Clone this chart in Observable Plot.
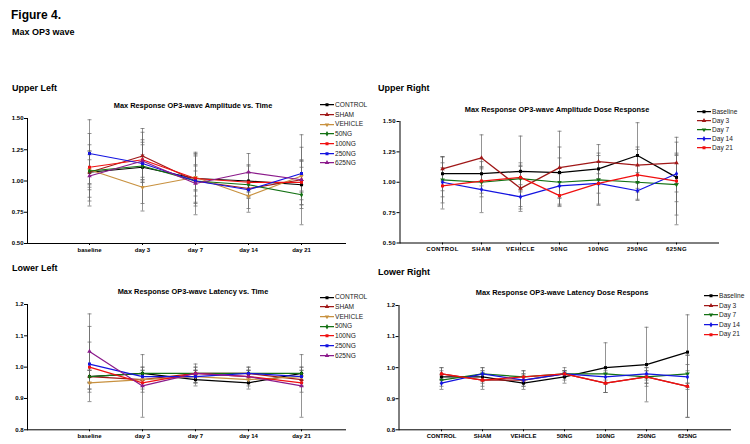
<!DOCTYPE html>
<html><head><meta charset="utf-8">
<script src="https://cdn.jsdelivr.net/npm/d3@7"></script>
<script src="https://cdn.jsdelivr.net/npm/@observablehq/plot@0.6"></script>
<style>
html,body{margin:0;padding:0;background:#fff;}
body{width:750px;height:444px;overflow:hidden;position:relative;font-family:"Liberation Sans",Arial,sans-serif;}
.abs{position:absolute;white-space:nowrap;line-height:1;}
.h1{font-weight:bold;font-size:12px;transform:translateY(-50%);}
.h2{font-weight:bold;font-size:9px;transform:translateY(-50%);}
.title{font-weight:bold;font-size:7.4px;transform:translate(-50%,-50%);}
.leg{font-size:6.6px;color:#222;transform:translateY(-50%);display:flex;align-items:center;}
.leg svg{display:block;margin-right:1px;}
.panel{position:absolute;}
</style></head><body>
<script>
// ---- categories ----
const treatments = ["CONTROL","SHAM","VEHICLE","50NG","100NG","250NG","625NG"];
const timepoints = ["baseline","day 3","day 7","day 14","day 21"];
const timeSeries = ["Baseline","Day 3","Day 7","Day 14","Day 21"];

// ---- OP3 amplitude means (per time point, ordered as treatments) ----
const ampBaseline = [1.07,1.07,1.09,1.08,1.11,1.22,1.04];
const ampDay3     = [1.11,1.20,0.95,1.12,1.17,1.14,1.16];
const ampDay7     = [1.02,1.00,1.03,1.00,1.02,1.00,0.98];
const ampDay14    = [1.00,0.94,0.88,0.97,0.99,0.93,1.07];
const ampDay21    = [0.97,1.01,1.04,0.89,0.99,1.06,1.01];
// ---- OP3 amplitude error (SEM) ----
const ampErrBaseline = [0.14,0.10,0.29,0.21,0.13,0.27,0.20];
const ampErrDay3     = [0.10,0.19,0.19,0.30,0.14,0.15,0.17];
const ampErrDay7     = [0.19,0.12,0.10,0.20,0.20,0.08,0.25];
const ampErrDay14    = [0.12,0.19,0.10,0.10,0.08,0.07,0.15];
const ampErrDay21    = [0.19,0.10,0.12,0.08,0.18,0.21,0.36];

// ---- OP3 latency means ----
const latBaseline = [0.97,0.97,0.95,0.97,1.00,1.01,1.05];
const latDay3     = [0.98,0.96,0.96,0.98,0.95,0.97,0.94];
const latDay7     = [0.96,0.98,0.97,0.98,0.98,0.97,0.98];
const latDay14    = [0.95,0.98,0.96,0.98,0.97,0.98,0.97];
const latDay21    = [0.98,0.96,0.97,0.98,0.95,0.97,0.94];
// ---- OP3 latency error ----
const latErrBaseline = [0.02,0.02,0.02,0.02,0.08,0.12,0.12];
const latErrDay3     = [0.02,0.03,0.02,0.02,0.03,0.02,0.10];
const latErrDay7     = [0.02,0.02,0.02,0.01,0.02,0.02,0.03];
const latErrDay14    = [0.02,0.02,0.02,0.01,0.02,0.02,0.02];
const latErrDay21    = [0.02,0.02,0.02,0.01,0.03,0.03,0.10];

const ampTicks = [0.5,0.75,1.0,1.25,1.5];
const latTicks = [0.8,0.9,1.0,1.1,1.2];

// ---- styles ----
const treatColors = ["#000000","#a01818","#c8913f","#137113","#f01010","#1414e0","#8b1a8b"];
const timeColors  = ["#000000","#a01818","#137113","#1414e0","#f01010"];
const sqrt3 = Math.sqrt(3);
const triDown = {draw(ctx, size){const y=-Math.sqrt(size/(sqrt3*3));ctx.moveTo(0,-y*2);ctx.lineTo(-sqrt3*y,y);ctx.lineTo(sqrt3*y,y);ctx.closePath();}};
const capSym = {draw(ctx){ctx.moveTo(-2,0);ctx.lineTo(2,0);}};
const treatSymbols = ["square","triangle",triDown,"diamond","square","square","triangle"];
const timeSymbols  = ["square","triangle",triDown,"diamond","square"];
const d3sym = s => s === "square" ? d3.symbolSquare : s === "triangle" ? d3.symbolTriangle : s === "diamond" ? d3.symbolDiamond : s;

const ampM = [ampBaseline,ampDay3,ampDay7,ampDay14,ampDay21];
const ampE = [ampErrBaseline,ampErrDay3,ampErrDay7,ampErrDay14,ampErrDay21];
const latM = [latBaseline,latDay3,latDay7,latDay14,latDay21];
const latE = [latErrBaseline,latErrDay3,latErrDay7,latErrDay14,latErrDay21];

function rowsByTime(M, E){ // series = treatments, x = timepoints
  const r=[]; treatments.forEach((s,i)=>timepoints.forEach((c,j)=>r.push({s,c,v:M[j][i],e:E[j][i]}))); return r;
}
function rowsByDose(M, E){ // series = time points, x = treatments
  const r=[]; timeSeries.forEach((s,i)=>treatments.forEach((c,j)=>r.push({s,c,v:M[i][j],e:E[i][j]}))); return r;
}

function addText(cls, txt, x, y){
  const d=document.createElement("div"); d.className="abs "+cls; d.textContent=txt;
  d.style.left=x+"px"; d.style.top=y+"px"; document.body.appendChild(d);
}

function panel(o){
  const rows=o.rows;
  const errStyle={stroke:"#666666", strokeWidth:0.7};
  const plot = Plot.plot({
    width:o.w, height:o.h,
    marginLeft:o.ml, marginRight:o.mr, marginTop:o.mt, marginBottom:o.mb,
    style:{fontFamily:"'Liberation Sans', Arial, sans-serif", fontSize:"6px", fontWeight:"bold", background:"transparent", overflow:"visible", letterSpacing:o.ls||"0px"},
    x:{type:"point", domain:o.cats, range:o.xr, label:null},
    y:{domain:o.yd, label:null},
    color:{domain:o.series, range:o.colors},
    symbol:{domain:o.series, range:o.symbols},
    marks:[
      Plot.ruleX(rows,{x:"c", y1:d=>d.v-d.e, y2:d=>d.v+d.e, ...errStyle}),
      Plot.dot(rows,{x:"c", y:d=>d.v+d.e, symbol:capSym, fill:"none", ...errStyle}),
      Plot.dot(rows,{x:"c", y:d=>d.v-d.e, symbol:capSym, fill:"none", ...errStyle}),
      Plot.line(rows,{x:"c", y:"v", z:"s", stroke:"s", strokeWidth:1.25}),
      Plot.dot(rows,{x:"c", y:"v", symbol:"s", fill:"s", r:1.7}),
      Plot.axisY({ticks:o.ticks, tickFormat:o.fmt, tickSize:3, tickPadding:1}),
      Plot.axisX({tickSize:2, tickPadding:2}),
      Plot.frame({anchor:"left", strokeWidth:1}),
      Plot.frame({anchor:"bottom", strokeWidth:1})
    ]
  });
  const wrap=document.createElement("div"); wrap.className="panel";
  wrap.style.left=o.x+"px"; wrap.style.top=o.y+"px";
  wrap.appendChild(plot); document.body.appendChild(wrap);
  addText("title", o.title, o.tx, o.ty);
  o.series.forEach((s,i)=>{
    const d=document.createElement("div"); d.className="abs leg";
    d.style.left=o.lx+"px"; d.style.top=(o.ly+i*o.ldy)+"px";
    const svg=d3.create("svg").attr("width",14).attr("height",6);
    svg.append("line").attr("x1",0).attr("x2",14).attr("y1",3).attr("y2",3).attr("stroke",o.colors[i]).attr("stroke-width",1.3);
    svg.append("path").attr("transform","translate(7,3)").attr("d",d3.symbol(d3sym(o.symbols[i]),9)()).attr("fill",o.colors[i]);
    d.appendChild(svg.node());
    const t=document.createElement("span"); t.textContent=s; d.appendChild(t);
    document.body.appendChild(d);
  });
}

addText("h1","Figure 4.",11,15);
addText("h2","Max OP3 wave",12,32);
addText("h2","Upper Left",12,88);
addText("h2","Upper Right",378,88);
addText("h2","Lower Left",12,268);
addText("h2","Lower Right",378,272);

panel({rows:rowsByTime(ampM,ampE), cats:timepoints, series:treatments, colors:treatColors, symbols:treatSymbols,
  yd:[0.5,1.5], ticks:ampTicks, fmt:d3.format(".2f"),
  x:0, y:100, w:375, h:160, ml:27, mr:30, mt:18, mb:17, xr:[61,328],
  title:"Max Response OP3-wave Amplitude vs. Time", tx:193, ty:105.5, lx:320, ly:105, ldy:9.7});

panel({rows:rowsByDose(ampM,ampE), cats:treatments, series:timeSeries, colors:timeColors, symbols:timeSymbols,
  yd:[0.5,1.5], ticks:ampTicks, fmt:d3.format(".2f"), ls:"0.4px",
  x:372, y:100, w:378, h:160, ml:27.5, mr:32, mt:21, mb:17.5, xr:[48,326],
  title:"Max Response OP3-wave Amplitude Dose Response", tx:557, ty:110, lx:697, ly:111.7, ldy:9});

panel({rows:rowsByTime(latM,latE), cats:timepoints, series:treatments, colors:treatColors, symbols:treatSymbols,
  yd:[0.8,1.2], ticks:latTicks, fmt:d3.format(".1f"),
  x:0, y:282, w:375, h:160, ml:27, mr:30, mt:22, mb:12.7, xr:[61,328],
  title:"Max Response OP3-wave Latency vs. Time", tx:193, ty:291.7, lx:320, ly:297.3, ldy:9.7});

panel({rows:rowsByDose(latM,latE), cats:treatments, series:timeSeries, colors:timeColors, symbols:timeSymbols,
  yd:[0.8,1.2], ticks:latTicks, fmt:d3.format(".1f"),
  x:372, y:282, w:378, h:160, ml:26.5, mr:20, mt:23, mb:12.7, xr:[48,335],
  title:"Max Response OP3-wave Latency Dose Respons", tx:562, ty:292.7, lx:704, ly:296, ldy:9.6});
</script>
</body></html>
